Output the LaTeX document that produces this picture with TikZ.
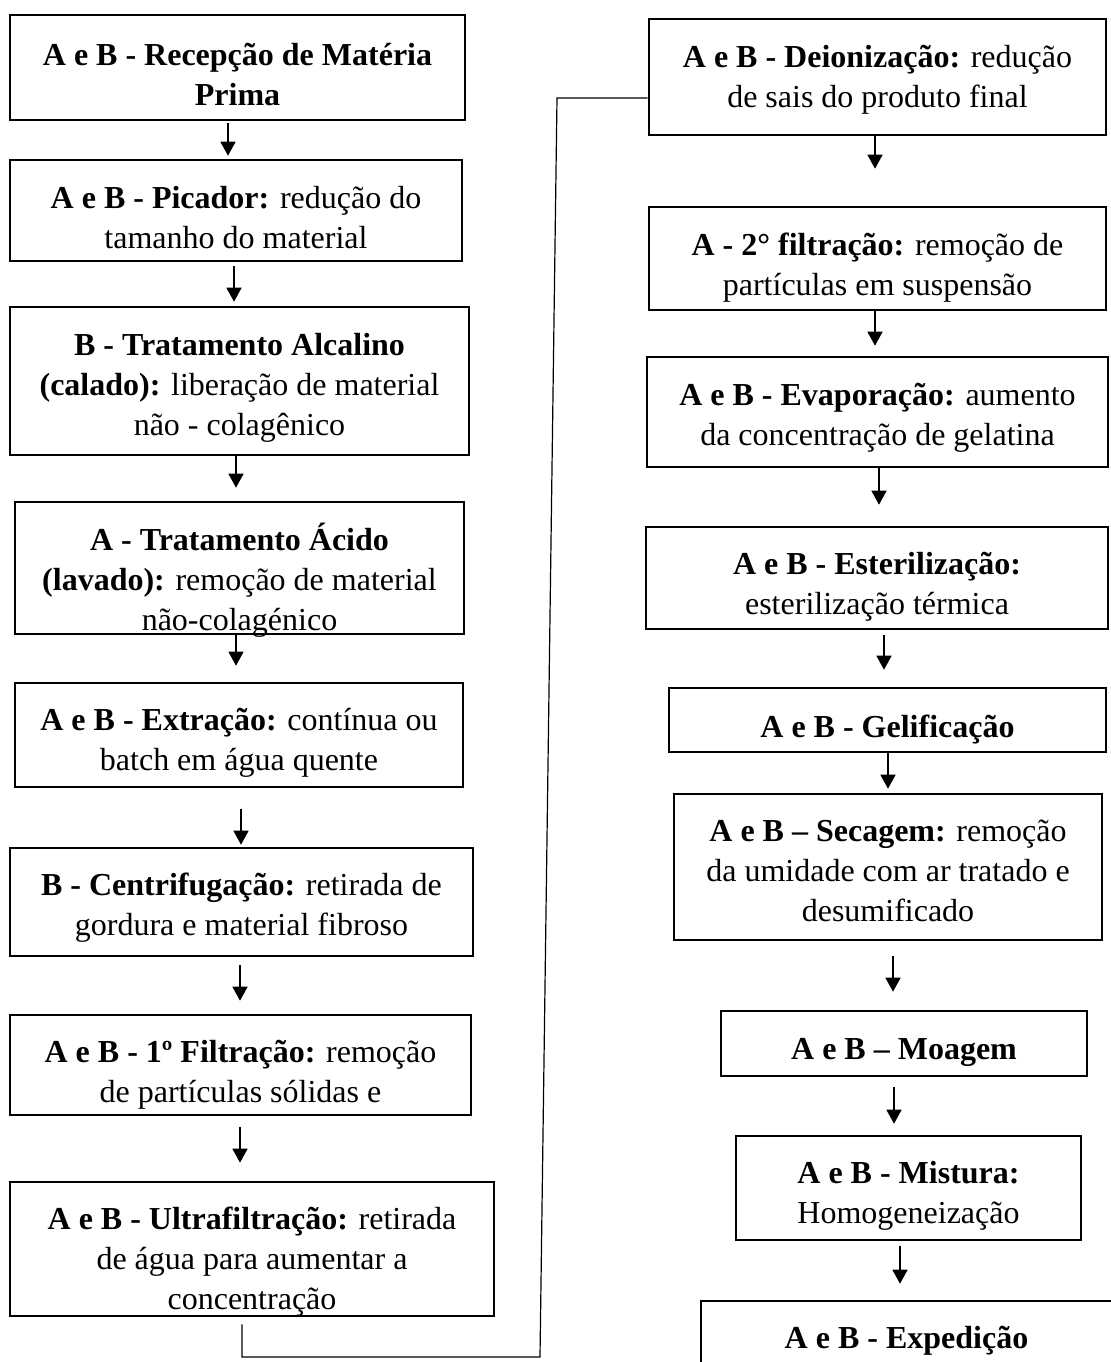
\documentclass[tikz,border=0pt]{standalone}
\usepackage{fontspec}
\setmainfont{Liberation Serif}
\usetikzlibrary{arrows.meta,calc,fit}
\tikzset{
  box/.style={draw, line width=1.3pt, rectangle, inner sep=0pt},
  txt/.style={inner sep=0pt, align=center, font=\fontsize{16}{20}\selectfont},
  arr/.style={line width=0.7pt, -{Triangle[width=7.5pt,length=7pt]}},
  link/.style={line width=0.6pt},
}
\newcommand\stage[7]{%
  \node[box, fit={(#2,#3) (#4,#5)}] (#1) {};
  \node[txt] (#1t) at ({(#2+#4)/2},#6) {#7};
}
\begin{document}
\begin{tikzpicture}[x=0.5pt,y=-0.5pt]
\useasboundingbox (0,0) rectangle (1110,1362);
% left column
\stage{L1}{10}{15}{465}{120}{77}{\strut\textbf{A e B - Recepção de Matéria}\\\strut\textbf{Prima}}
\stage{L2}{10}{160}{462}{261}{220}{\strut\textbf{A e B - Picador:} redução do\\\strut tamanho do material}
\stage{L3}{10}{307}{469}{455}{387}{\strut\textbf{B - Tratamento Alcalino}\\\strut\textbf{(calado):} liberação de material\\\strut não - colagênico}
\stage{L4}{15}{502}{464}{634}{582}{\strut\textbf{A - Tratamento Ácido}\\\strut\textbf{(lavado):} remoção de material\\\strut não-colagénico}
\stage{L5}{15}{683}{463}{787}{742}{\strut\textbf{A e B - Extração:} contínua ou\\\strut batch em água quente}
\stage{L6}{10}{848}{473}{956}{907}{\strut\textbf{B - Centrifugação:} retirada de\\\strut gordura e material fibroso}
\stage{L7}{10}{1015}{471}{1115}{1074}{\strut\textbf{A e B - 1º Filtração:} remoção\\\strut de partículas sólidas e}
\stage{L8}{10}{1182}{494}{1316}{1261}{\strut\textbf{A e B - Ultrafiltração:} retirada\\\strut de água para aumentar a\\\strut concentração}
% right column
\stage{R1}{649}{19}{1106}{135}{79}{\strut\textbf{A e B - Deionização:} redução\\\strut de sais do produto final}
\stage{R2}{649}{207}{1106}{310}{267}{\strut\textbf{A - 2° filtração:} remoção de\\\strut partículas em suspensão}
\stage{R3}{647}{357}{1108}{467}{417}{\strut\textbf{A e B - Evaporação:} aumento\\\strut da concentração de gelatina}
\stage{R4}{646}{527}{1108}{629}{586}{\strut\textbf{A e B - Esterilização:}\\\strut esterilização térmica}
\stage{R5}{669}{688}{1106}{752}{729}{\strut\textbf{A e B - Gelificação}}
\stage{R6}{674}{794}{1102}{940}{873}{\strut\textbf{A e B – Secagem:} remoção\\\strut da umidade com ar tratado e\\\strut desumificado}
\stage{R7}{721}{1011}{1087}{1076}{1051}{\strut\textbf{A e B – Moagem}}
\stage{R8}{736}{1136}{1081}{1240}{1195}{\strut\textbf{A e B - Mistura:}\\\strut Homogeneização}
\stage{R9}{701}{1301}{1112}{1400}{1340}{\strut\textbf{A e B - Expedição}}
% arrows left
\draw[arr] ($(L1.south)+(-9.5,2)$) -- ($(L2.north)+(-8,-3)$);
\draw[arr] ($(L2.south)+(-2,4)$) -- ($(L3.north)+(-5.5,-4)$);
\draw[arr] ($(L3.south)+(-3.5,0)$) -- ($(L4.north)+(-3.5,-13)$);
\draw[arr] ($(L4.south)+(-3.5,-2)$) -- ($(L5.north)+(-3,-16)$);
\draw[arr] ($(L5.south)+(2,21)$) -- ($(L6.north)+(-0.5,-2)$);
\draw[arr] ($(L6.south)+(-1.5,8)$) -- ($(L7.north)+(-0.5,-13)$);
\draw[arr] ($(L7.south)+(-0.5,11)$) -- ($(L8.north)+(-12,-18)$);
% arrows right
\draw[arr] ($(R1.south)+(-2.5,0)$) -- ($(R2.north)+(-2.5,-37)$);
\draw[arr] ($(R2.south)+(-2.5,0)$) -- ($(R3.north)+(-2.5,-10)$);
\draw[arr] ($(R3.south)+(1.5,0)$) -- ($(R4.north)+(2,-21)$);
\draw[arr] ($(R4.south)+(7,5)$) -- ($(R5.north)+(-3.5,-17)$);
\draw[arr] ($(R5.south)+(0.5,0)$) -- ($(R6.north)+(0,-4)$);
\draw[arr] ($(R6.south)+(5,15)$) -- ($(R7.north)+(-11,-18)$);
\draw[arr] ($(R7.south)+(-10,10)$) -- ($(R8.north)+(-14.5,-11)$);
\draw[arr] ($(R8.south)+(-8.5,5)$) -- ($(R9.north)+(-6.5,-16)$);
% link between columns
\coordinate (c1) at (540,1357);
\coordinate (c2) at (557,98);
\draw[link] ($(L8.south)+(-10,7)$) |- (c1) -- (c2) -- (R1.west |- c2);
\end{tikzpicture}
\end{document}
